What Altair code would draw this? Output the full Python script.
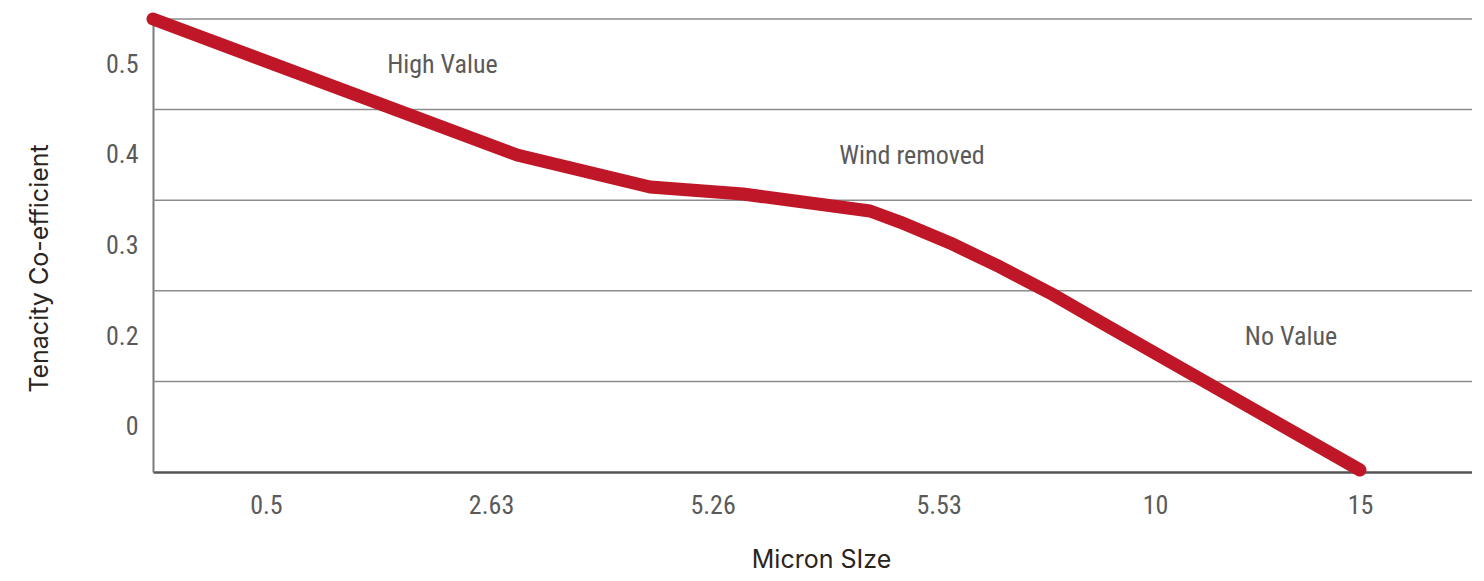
import altair as alt
import pandas as pd

# ---- data (x in category-slot units, y in band units) ----
line_x = [0.000, 1.625, 2.219, 2.634, 3.201, 3.335, 3.558, 3.781, 4.004, 4.228, 5.388]
line_y = [5.000, 3.499, 3.146, 3.068, 2.881, 2.759, 2.528, 2.263, 1.976, 1.656, 0.022]

x_tick_pos = [0.504, 1.509, 2.498, 3.507, 4.473, 5.388]
x_tick_labels = ["0.5", "2.63", "5.26", "5.53", "10", "15"]

y_tick_pos = [0.5, 1.5, 2.5, 3.5, 4.5]
y_tick_labels = ["0", "0.2", "0.3", "0.4", "0.5"]

grid_levels = [1, 2, 3, 4, 5]

note_text = ["High Value", "Wind removed", "No Value"]
note_x = [1.292, 3.388, 5.080]
note_y = [4.5, 3.5, 1.5]

X_DOMAIN = [0, 5.888]
Y_DOMAIN = [0, 5]

line_df = pd.DataFrame({"x": line_x, "y": line_y})
grid_df = pd.DataFrame({"y": grid_levels})
note_df = pd.DataFrame({"text": note_text, "x": note_x, "y": note_y})

tick_font = "Liberation Sans Narrow, Roboto Condensed, DejaVu Sans Condensed, sans-serif"
title_font = "Inter, Lato, sans-serif"

x_label_expr = "[" + ",".join(f"'{s}'" for s in x_tick_labels) + "][indexof([" + \
    ",".join(str(v) for v in x_tick_pos) + "], datum.value)]"
y_label_expr = "[" + ",".join(f"'{s}'" for s in y_tick_labels) + "][indexof([" + \
    ",".join(str(v) for v in y_tick_pos) + "], datum.value)]"

x_enc = alt.X(
    "x:Q",
    scale=alt.Scale(domain=X_DOMAIN, nice=False, zero=False),
    axis=alt.Axis(
        title="Micron SIze",
        values=x_tick_pos,
        labelExpr=x_label_expr,
        grid=False,
        ticks=False,
        tickSize=0,
        labelPadding=41,
        labelBaseline="alphabetic",
        labelFont=tick_font,
        labelFontSize=26,
        labelColor="#5a5a5a",
        domainColor="#555555",
        domainWidth=2.5,
        titleFont=title_font,
        titleFontSize=25,
        titleFontWeight="normal",
        titleColor="#2a2420",
        titleBaseline="alphabetic",
        titleX=668,
        titleY=95,
        labelFlush=False,
        labelOverlap=False,
    ),
)

y_enc = alt.Y(
    "y:Q",
    scale=alt.Scale(domain=Y_DOMAIN, nice=False, zero=False),
    axis=alt.Axis(
        title="Tenacity Co-efficient",
        values=y_tick_pos,
        labelExpr=y_label_expr,
        grid=False,
        ticks=False,
        tickSize=0,
        labelPadding=15,
        labelFont=tick_font,
        labelFontSize=26,
        labelColor="#5a5a5a",
        domainColor="#7a7a7a",
        domainWidth=2,
        titleFont=title_font,
        titleFontSize=25,
        titleFontWeight="normal",
        titleColor="#2a2420",
        titleBaseline="alphabetic",
        titleX=-106,
        titleY=249,
        labelFlush=False,
        labelOverlap=False,
    ),
)

grid = alt.Chart(grid_df).mark_rule(color="#8c8c8c", strokeWidth=1.5).encode(
    y=alt.Y("y:Q", scale=alt.Scale(domain=Y_DOMAIN, nice=False, zero=False))
)

line = alt.Chart(line_df).mark_line(
    color="#BF1727", strokeWidth=13, strokeCap="round", strokeJoin="round"
).encode(x=x_enc, y=y_enc)

notes = alt.Chart(note_df).mark_text(
    font=tick_font, fontSize=26, color="#5a5a5a", align="center", baseline="middle", dy=1
).encode(
    x=alt.X("x:Q", scale=alt.Scale(domain=X_DOMAIN, nice=False, zero=False)),
    y=alt.Y("y:Q", scale=alt.Scale(domain=Y_DOMAIN, nice=False, zero=False)),
    text="text:N",
)

chart = alt.layer(grid, line, notes).properties(
    width=1319,
    height=453,
    autosize=alt.AutoSizeParams(type="none"),
    padding={"left": 145, "top": 11, "right": 0, "bottom": 101},
    background="white",
).configure_view(stroke=None)

chart.save("out.html", embed_options={"renderer": "svg", "actions": False})
